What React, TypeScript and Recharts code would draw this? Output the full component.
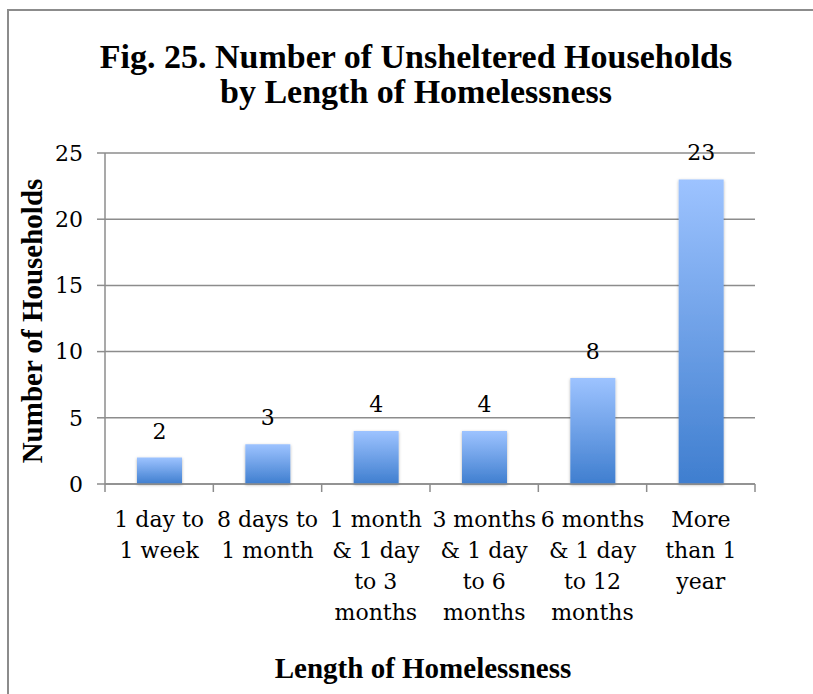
import React from 'react';
import { BarChart, Bar, XAxis, YAxis, CartesianGrid, LabelList } from 'recharts';

const categories = [
  '1 day to 1 week',
  '8 days to 1 month',
  '1 month & 1 day to 3 months',
  '3 months & 1 day to 6 months',
  '6 months & 1 day to 12 months',
  'More than 1 year',
];
const tickLabelLines = [
  ['1 day to', '1 week'],
  ['8 days to', '1 month'],
  ['1 month', '& 1 day', 'to 3', 'months'],
  ['3 months', '& 1 day', 'to 6', 'months'],
  ['6 months', '& 1 day', 'to 12', 'months'],
  ['More', 'than 1', 'year'],
];
const households = [2, 3, 4, 4, 8, 23];
const yTicks = [0, 5, 10, 15, 20, 25];

const titleLines = ['Fig. 25. Number of Unsheltered Households', 'by Length of Homelessness'];
const xTitle = 'Length of Homelessness';
const yTitle = 'Number of Households';

const data = categories.map((name, i) => ({ name, value: households[i] }));

const W = 813;
const H = 694;
const MARGIN = { top: 153, right: 58, bottom: 60, left: 5 };
const Y_AXIS_W = 100;
const X_AXIS_H = 150;
const PLOT_W = W - MARGIN.left - MARGIN.right - Y_AXIS_W;
const GRID = '#8c8c8c';
const REG_FONT = '"DejaVu Serif", serif';
const BOLD_FONT = '"Liberation Serif", serif';

const XTick = (props: any) => {
  const { x, y, payload } = props;
  const idx = categories.indexOf(payload.value);
  const bw = PLOT_W / categories.length;
  const lines = tickLabelLines[idx] || [String(payload.value)];
  return (
    <g>
      <line x1={x - bw / 2} y1={y} x2={x - bw / 2} y2={y + 8} stroke={GRID} strokeWidth={1.5} />
      {idx === categories.length - 1 && (
        <line x1={x + bw / 2} y1={y} x2={x + bw / 2} y2={y + 8} stroke={GRID} strokeWidth={1.5} />
      )}
      <text textAnchor="middle" fontFamily={REG_FONT} fontSize={22} fill="#000">
        {lines.map((l, i) => (
          <tspan key={i} x={x} y={y + 43 + i * 31}>
            {l}
          </tspan>
        ))}
      </text>
    </g>
  );
};

export default function App() {
  return (
    <div
      style={{
        position: 'absolute',
        left: 0,
        top: 0,
        width: W,
        height: H,
        overflow: 'hidden',
        background: '#fff',
      }}
    >
      <div
        style={{
          position: 'absolute',
          left: 7,
          top: 9,
          width: 900,
          height: 690,
          borderLeft: `2px solid ${GRID}`,
          borderTop: `2px solid ${GRID}`,
        }}
      />
      <div style={{ position: 'absolute', left: 0, top: 0 }}>
        <BarChart width={W} height={H} data={data} margin={MARGIN}>
          <defs>
            <linearGradient id="barGrad" x1="0" y1="0" x2="0" y2="1">
              <stop offset="0%" stopColor="#9dc3ff" />
              <stop offset="100%" stopColor="#3f7ecf" />
            </linearGradient>
            <filter id="barShadow" x="-20%" y="-20%" width="140%" height="140%">
              <feDropShadow dx="0" dy="1" stdDeviation="1.5" floodColor="#000" floodOpacity="0.3" />
            </filter>
          </defs>
          <CartesianGrid vertical={false} stroke={GRID} strokeWidth={1.5} />
          <XAxis
            dataKey="name"
            height={X_AXIS_H}
            interval={0}
            tickSize={0}
            tickMargin={0}
            tickLine={false}
            axisLine={{ stroke: GRID, strokeWidth: 1.5 }}
            tick={<XTick />}
          />
          <YAxis
            width={Y_AXIS_W}
            domain={[0, 25]}
            ticks={yTicks}
            interval={0}
            tickSize={8}
            tickMargin={14}
            axisLine={{ stroke: GRID, strokeWidth: 1.5 }}
            tickLine={{ stroke: GRID, strokeWidth: 1.5 }}
            tick={{ fill: '#000', fontSize: 22, fontFamily: REG_FONT }}
          />
          <Bar
            dataKey="value"
            fill="url(#barGrad)"
            barSize={45}
            isAnimationActive={false}
            style={{ filter: 'url(#barShadow)' }}
          >
            <LabelList
              dataKey="value"
              position="top"
              offset={19}
              fill="#000"
              fontSize={22}
              fontFamily={REG_FONT}
            />
          </Bar>
        </BarChart>
      </div>
      <svg
        width={W}
        height={H}
        style={{ position: 'absolute', left: 0, top: 0, pointerEvents: 'none' }}
      >
        <text textAnchor="middle" fontFamily={BOLD_FONT} fontWeight="bold" fontSize={34} fill="#000">
          <tspan x={416} y={68}>
            {titleLines[0]}
          </tspan>
          <tspan x={416} y={103}>
            {titleLines[1]}
          </tspan>
        </text>
        <text
          x={423}
          y={678}
          textAnchor="middle"
          fontFamily={BOLD_FONT}
          fontWeight="bold"
          fontSize={29}
          fill="#000"
        >
          {xTitle}
        </text>
        <text
          x={42}
          y={321}
          textAnchor="middle"
          transform="rotate(-90 42 321)"
          fontFamily={BOLD_FONT}
          fontWeight="bold"
          fontSize={29}
          fill="#000"
        >
          {yTitle}
        </text>
      </svg>
    </div>
  );
}
